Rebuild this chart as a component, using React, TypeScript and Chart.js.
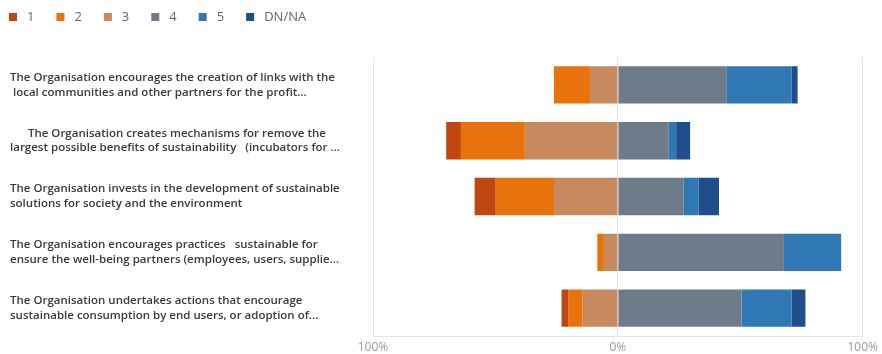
import React, { useEffect, useRef } from 'react';
import { Chart, registerables } from 'chart.js';

Chart.register(...registerables);

const categories: string[][] = [
  ['The Organisation encourages the creation of links with the', ' local communities and other partners for the profit...'],
  ['      The Organisation creates mechanisms for remove the', 'largest possible benefits of sustainability   (incubators for ...'],
  ['The Organisation invests in the development of sustainable', 'solutions for society and the environment'],
  ['The Organisation encourages practices   sustainable for', 'ensure the well-being partners (employees, users, supplie...'],
  ['The Organisation undertakes actions that encourage', 'sustainable consumption by end users, or adoption of...'],
];

const seriesNames = ['1', '2', '3', '4', '5', 'DN/NA'];

const values1 = [0, 6.0, 8.6, 0, 2.7];
const values2 = [14.7, 26.1, 23.8, 2.7, 5.9];
const values3 = [11.4, 38.0, 26.1, 5.7, 14.4];
const values4 = [44.5, 20.8, 26.9, 67.8, 50.5];
const values5 = [26.5, 3.0, 6.0, 23.4, 20.4];
const valuesDN = [2.4, 5.7, 8.4, 0, 5.7];

const seriesColors = ['#C0460F', '#E8730D', '#C68A5E', '#6D7B8B', '#2F78B3', '#1F4F8A'];

const xTickValues = [-100, 0, 100];

function buildRanges() {
  const r1: any[] = [], r2: any[] = [], r3: any[] = [], r4: any[] = [], r5: any[] = [], rD: any[] = [];
  for (let i = 0; i < categories.length; i++) {
    const a = values3[i];
    const b = a + values2[i];
    const c = b + values1[i];
    r3.push(values3[i] ? [-a, 0] : null);
    r2.push(values2[i] ? [-b, -a] : null);
    r1.push(values1[i] ? [-c, -b] : null);
    const p = values4[i];
    const q = p + values5[i];
    const s = q + valuesDN[i];
    r4.push(values4[i] ? [0, p] : null);
    r5.push(values5[i] ? [p, q] : null);
    rD.push(valuesDN[i] ? [q, s] : null);
  }
  return [r1, r2, r3, r4, r5, rD];
}

const legendPlugin = {
  id: 'topLegend',
  afterDraw(chart: any) {
    const ctx = chart.ctx;
    ctx.save();
    ctx.font = '13px "Open Sans"';
    ctx.textBaseline = 'middle';
    ctx.textAlign = 'left';
    let x = 9;
    const y = 17;
    chart.data.datasets.forEach((ds: any) => {
      ctx.fillStyle = ds.backgroundColor;
      ctx.fillRect(x, y - 4, 8, 8);
      x += 8 + 10;
      ctx.fillStyle = '#666666';
      ctx.fillText(ds.label, x, y);
      x += ctx.measureText(ds.label).width + 22;
    });
    ctx.restore();
  },
};

export default function App() {
  const canvasRef = useRef<HTMLCanvasElement | null>(null);

  useEffect(() => {
    if (!canvasRef.current) return;
    const ranges = buildRanges();
    Chart.defaults.font.family = '"Open Sans", sans-serif';
    const chart = new Chart(canvasRef.current, {
      type: 'bar',
      data: {
        labels: categories,
        datasets: seriesNames.map((name, i) => ({
          label: name,
          data: ranges[i],
          backgroundColor: seriesColors[i],
          borderWidth: 0,
          grouped: false,
          barPercentage: 0.67,
          categoryPercentage: 1.0,
        })) as any,
      },
      options: {
        indexAxis: 'y',
        animation: false,
        responsive: true,
        maintainAspectRatio: false,
        layout: { padding: { left: 10, right: 19, top: 57, bottom: 0 } },
        plugins: {
          legend: { display: false },
          tooltip: { enabled: false },
        },
        scales: {
          x: {
            min: -100,
            max: 100,
            z: 1,
            afterBuildTicks: (scale: any) => {
              scale.ticks = xTickValues.map((v) => ({ value: v }));
            },
            afterFit: (scale: any) => {
              scale.height = 17;
            },
            grid: { color: '#e6e6e6', drawTicks: false, lineWidth: 1 },
            border: { display: true, color: '#e6e6e6' },
            ticks: {
              padding: 4,
              color: '#9a9a9a',
              font: { size: 12 },
              maxRotation: 0,
              autoSkip: false,
              callback: (v: any) => Math.abs(Number(v)) + '%',
            },
          },
          y: {
            afterFit: (scale: any) => {
              scale.width = 363;
            },
            grid: { display: false },
            border: { display: false },
            ticks: {
              crossAlign: 'far',
              color: '#3a3a3a',
              font: { size: 11.5, weight: '600', lineHeight: 1.3 },
              autoSkip: false,
            },
          },
        },
      },
      plugins: [legendPlugin],
    });
    return () => chart.destroy();
  }, []);

  return (
    <div style={{ position: 'absolute', left: 0, top: 0, width: 882, height: 354, background: '#fff' }}>
      <canvas ref={canvasRef} />
    </div>
  );
}
